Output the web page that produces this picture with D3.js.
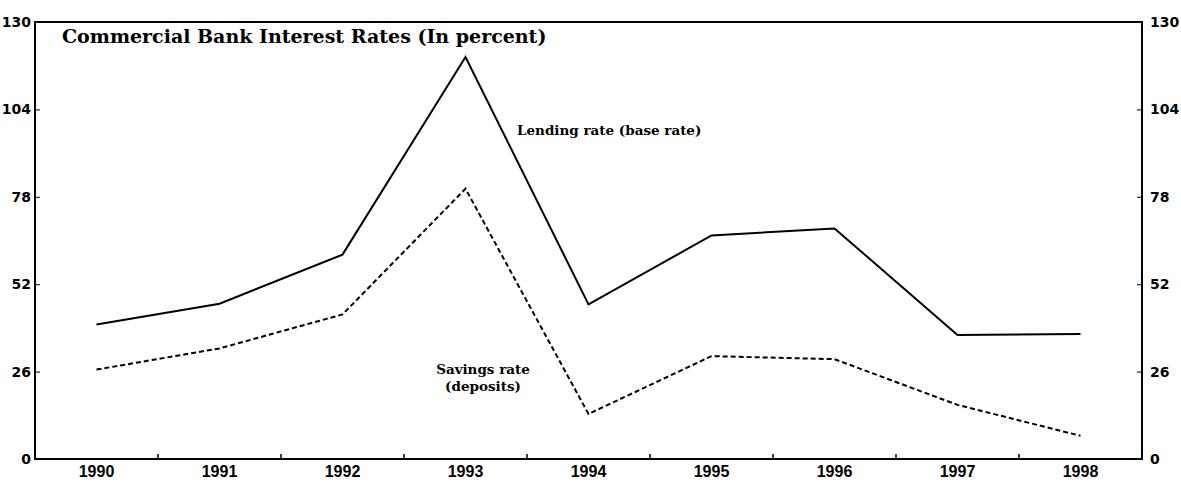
<!DOCTYPE html>
<html lang="en">

<head>
  <meta charset="UTF-8">
  <title>Commercial Bank Interest Rates</title>
  <script src="https://d3js.org/d3.v7.min.js"></script>
  <style>
    body {
      margin: 0;
      padding: 0;
      background-color: #ffffff;
    }

    .axis text {
      font-family: "DejaVu Sans", sans-serif;
      font-weight: bold;
      font-size: 14px;
      fill: #000;
    }

    .x-axis text {
      font-family: "Liberation Sans Narrow", "Arial Narrow", "Liberation Sans", sans-serif;
      font-size: 16px;
    }

    .axis path,
    .axis line {
      stroke: #000;
    }

    .title {
      font-family: "DejaVu Serif", serif;
      font-weight: bold;
      font-size: 19px;
    }

    .note {
      font-family: "DejaVu Serif", serif;
      font-weight: bold;
      font-size: 13.5px;
    }
  </style>
</head>

<body>
  <div id="chart"></div>
  <script>
    const years = ["1990", "1991", "1992", "1993", "1994", "1995", "1996", "1997", "1998"];
    const lending = [40, 46.2, 60.8, 119.6, 46, 66.5, 68.6, 36.9, 37.2];
    const savings = [26.6, 32.9, 43, 80.4, 13.4, 30.6, 29.7, 16.1, 6.9];
    const yTicks = [0, 26, 52, 78, 104, 130];

    const margin = { top: 22, right: 39, bottom: 30, left: 35 },
      width = 1181 - margin.left - margin.right,
      height = 489 - margin.top - margin.bottom;

    const svg = d3.select("#chart")
      .append("svg")
      .attr("width", 1181)
      .attr("height", 489);

    const g = svg.append("g")
      .attr("transform", `translate(${margin.left}, ${margin.top})`);

    const xBand = d3.scaleBand()
      .domain(years)
      .range([0, width]);

    const x = d3.scalePoint()
      .domain(years)
      .range([0, width])
      .padding(0.5);

    const y = d3.scaleLinear()
      .domain([0, 130])
      .range([height, 0]);

    // frame
    g.append("rect")
      .attr("width", width)
      .attr("height", height)
      .attr("fill", "none")
      .attr("stroke", "#000")
      .attr("stroke-width", 2);

    // left axis, ticks inside
    g.append("g")
      .attr("class", "axis")
      .call(d3.axisRight(y).tickValues(yTicks).tickSize(5))
      .call(a => a.select(".domain").remove())
      .call(a => a.selectAll("text").attr("text-anchor", "end").attr("x", -4));

    // right axis, ticks inside
    g.append("g")
      .attr("class", "axis")
      .attr("transform", `translate(${width}, 0)`)
      .call(d3.axisLeft(y).tickValues(yTicks).tickSize(5))
      .call(a => a.select(".domain").remove())
      .call(a => a.selectAll("text").attr("text-anchor", "start").attr("x", 8));

    // bottom axis: separators between years, labels centred
    const xAxis = g.append("g")
      .attr("class", "axis x-axis")
      .attr("transform", `translate(0, ${height})`);

    xAxis.selectAll("line")
      .data(years.slice(1))
      .enter()
      .append("line")
      .attr("x1", d => xBand(d))
      .attr("x2", d => xBand(d))
      .attr("y1", 0)
      .attr("y2", -5)
      .attr("stroke-width", 1.5);

    xAxis.selectAll("text")
      .data(years)
      .enter()
      .append("text")
      .attr("x", d => x(d))
      .attr("y", 18)
      .attr("text-anchor", "middle")
      .text(d => d);

    const line = d3.line()
      .x((d, i) => x(years[i]))
      .y(d => y(d));

    g.append("path")
      .datum(lending)
      .attr("fill", "none")
      .attr("stroke", "#000")
      .attr("stroke-width", 2)
      .attr("d", line);

    g.append("path")
      .datum(savings)
      .attr("fill", "none")
      .attr("stroke", "#000")
      .attr("stroke-width", 2)
      .attr("stroke-dasharray", "5,3")
      .attr("d", line);

    g.append("text")
      .attr("class", "title")
      .attr("x", 27)
      .attr("y", 21)
      .text("Commercial Bank Interest Rates (In percent)");

    g.append("text")
      .attr("class", "note")
      .attr("x", 482)
      .attr("y", 113)
      .text("Lending rate (base rate)");

    const note2 = g.append("text")
      .attr("class", "note")
      .attr("text-anchor", "middle")
      .attr("x", 448)
      .attr("y", 352);
    note2.append("tspan").attr("x", 448).text("Savings rate");
    note2.append("tspan").attr("x", 448).attr("dy", 17).text("(deposits)");
  </script>
</body>

</html>
